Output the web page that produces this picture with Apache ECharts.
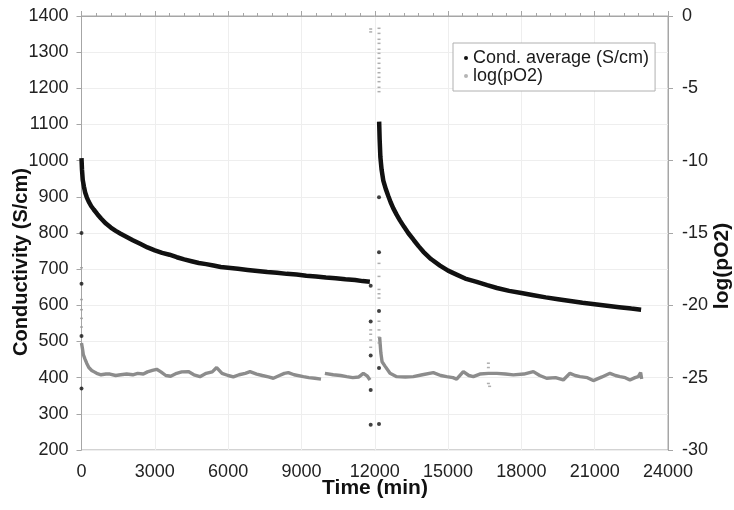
<!DOCTYPE html>
<html>
<head>
<meta charset="utf-8">
<script src="https://cdn.jsdelivr.net/npm/echarts@6/dist/echarts.min.js"></script>
<style>html,body{margin:0;padding:0;background:#fff}#c{width:734px;height:510px}</style>
</head>
<body>
<div id="c"></div>
<script>
// ---- Data ----
var xTicks = [0, 3000, 6000, 9000, 12000, 15000, 18000, 21000, 24000];

// Conductivity, first relaxation (time in min, S/cm)
var condT1 = [0, 20, 50, 100, 150, 220, 300, 400, 500, 650, 800, 1000, 1200, 1400, 1600, 1850, 2100, 2400, 2700, 3000, 3300, 3600, 3900, 4200, 4500, 4800, 5100, 5400, 5700, 6000, 6400, 6800, 7200, 7600, 8000, 8400, 8800, 9200, 9600, 10000, 10400, 10800, 11200, 11500, 11800];
var condV1 = [1007, 975, 947, 928, 912, 898, 886, 874, 865, 852, 840, 826, 815, 806, 798, 789, 780, 770, 760, 752, 745, 740, 733, 727, 722, 717, 714, 710, 706, 704, 701, 698, 695, 692, 690, 687, 685, 682, 680, 677, 675, 672, 670, 667, 665];

// Conductivity, second relaxation
var condT2 = [12180, 12200, 12230, 12280, 12350, 12450, 12550, 12650, 12760, 12900, 13030, 13200, 13370, 13600, 13800, 13990, 14300, 14670, 15000, 15350, 15700, 16170, 16600, 17000, 17500, 18000, 18500, 19000, 19500, 20000, 20500, 21000, 21500, 22000, 22500, 22900];
var condV2 = [1108, 1060, 1010, 975, 945, 922, 903, 885, 868, 850, 835, 817, 800, 780, 763, 748, 728, 710, 696, 685, 674, 665, 656, 648, 640, 634, 628, 622, 617, 612, 607, 603, 599, 595, 591, 588];

// Isolated conductivity points (start and gas switch)
var condDotT = [0, 0, 0, 0, 11834, 11834, 11834, 11834, 11834, 12174, 12174, 12174, 12174, 12174];
var condDotV = [370, 515, 660, 800, 654, 555, 461, 366, 270, 272, 427, 584, 747, 899];

// log(pO2), first period
var pT1 = [0, 40, 74, 140, 212, 300, 417, 520, 622, 800, 1000, 1166, 1400, 1600, 1848, 2100, 2300, 2530, 2700, 2900, 3076, 3250, 3450, 3650, 3895, 4100, 4372, 4600, 4849, 5100, 5350, 5531, 5750, 6000, 6213, 6450, 6700, 6895, 7168, 7400, 7650, 7850, 8100, 8300, 8464, 8700, 9078, 9300, 9550, 9800, 9880, 9960, 10300, 10600, 10851, 11100, 11350, 11533, 11700, 11806];
var pV1 = [-22.6, -23.0, -23.4, -23.7, -24.0, -24.3, -24.5, -24.6, -24.7, -24.8, -24.75, -24.75, -24.85, -24.8, -24.75, -24.8, -24.7, -24.75, -24.6, -24.5, -24.42, -24.6, -24.85, -24.9, -24.7, -24.6, -24.58, -24.8, -24.93, -24.7, -24.6, -24.3, -24.7, -24.85, -24.95, -24.8, -24.7, -24.58, -24.75, -24.85, -24.95, -25.04, -24.85, -24.7, -24.65, -24.8, -24.93, -25.0, -25.04, -25.1, null, -24.7, -24.8, -24.85, -24.93, -25.0, -24.95, -24.7, -24.9, -25.16];

// log(pO2), second period
var pT2 = [12200, 12250, 12300, 12420, 12625, 12898, 13250, 13580, 13950, 14396, 14700, 14942, 15200, 15351, 15624, 15850, 16033, 16300, 16647, 17000, 17350, 17670, 18100, 18490, 18750, 19033, 19400, 19715, 19988, 20200, 20397, 20700, 20943, 21300, 21625, 21850, 22034, 22250, 22443, 22650, 22785, 22880, 22921];
var pV2 = [-22.2, -23.3, -23.9, -24.2, -24.7, -24.93, -24.95, -24.93, -24.8, -24.65, -24.85, -24.93, -25.0, -25.1, -24.58, -24.85, -24.93, -24.75, -24.7, -24.7, -24.75, -24.81, -24.75, -24.58, -24.85, -25.04, -25.0, -25.16, -24.7, -24.85, -24.93, -25.0, -25.2, -24.95, -24.7, -24.85, -24.93, -25.0, -25.16, -25.0, -24.93, -24.65, -25.1];

// Isolated log(pO2) points (start, gas switch, spikes)
var pDotT = [0, 0, 0, 0, 0, 11834, 11834, 11834, 11834, 11834, 11834, 12174, 12174, 12174, 12174, 12174, 12174, 12174, 12174, 12174, 12174, 12174, 12174, 12174, 12174, 12174, 12174, 12174, 12174, 12174, 12174, 12174, 12174, 12174, 16650, 16650, 16650, 16700];
var pDotV = [-17.4, -19.6, -20.3, -20.9, -21.5, -0.9, -1.1, -21.7, -22.0, -22.4, -22.9, -0.85, -1.2, -1.61, -1.89, -2.3, -2.58, -2.92, -3.27, -3.61, -3.92, -4.24, -4.54, -4.93, -5.23, -17.1, -18.0, -18.9, -19.2, -19.5, -21.1, -21.7, -22.2, -22.6, -24.0, -24.3, -25.4, -25.6];

function pairs(t, v) {
  return t.map(function (x, i) { return [x, v[i] === null ? '-' : v[i]]; });
}

var FONT = '"Liberation Sans", Arial, sans-serif';
var AX = '#a6a6a6';
var GRID = '#eeeeee';
var BLACK = '#111111';
var GREY = '#8c8c8c';
var condName = 'Cond. average (S/cm)';
var pName = 'log(pO2)';
function plain(v) { return String(v); }

var chart = echarts.init(document.getElementById('c'), null, {renderer: 'canvas'});
chart.setOption({
  animation: false,
  backgroundColor: '#ffffff',
  textStyle: {fontFamily: FONT},
  grid: {left: 81.5, right: 66, top: 16, bottom: 60, show: true, borderColor: AX, borderWidth: 1, backgroundColor: 'transparent'},
  legend: {
    orient: 'vertical', left: 453, top: 43,
    padding: [6, 6, 6, 11], itemGap: 0,
    itemWidth: 4, itemHeight: 4,
    borderColor: '#b0b0b0', borderWidth: 1, backgroundColor: '#ffffff',
    textStyle: {fontSize: 18, color: '#1a1a1a', lineHeight: 17, fontFamily: FONT},
    data: [
      {name: condName, icon: 'circle', itemStyle: {color: BLACK}},
      {name: pName, icon: 'circle', itemStyle: {color: '#b5b5b5'}}
    ]
  },
  xAxis: {
    type: 'value', min: xTicks[0], max: xTicks[xTicks.length - 1], interval: xTicks[1] - xTicks[0],
    axisLine: {lineStyle: {color: AX}},
    axisTick: {inside: true, length: 5, lineStyle: {color: AX}},
    minorTick: {show: true, splitNumber: 5, length: 3, lineStyle: {color: AX}},
    splitLine: {show: true, lineStyle: {color: GRID}},
    axisLabel: {fontSize: 18, color: '#222', margin: 13, fontFamily: FONT, formatter: plain}
  },
  yAxis: [
    {
      type: 'value', min: 200, max: 1400, interval: 100, position: 'left',
      axisLine: {show: true, lineStyle: {color: AX}},
      axisTick: {show: true, length: 5, lineStyle: {color: AX}},
      splitLine: {show: true, lineStyle: {color: GRID}},
      axisLabel: {fontSize: 18, color: '#222', margin: 13, fontFamily: FONT, formatter: plain}
    },
    {
      type: 'value', min: -30, max: 0, interval: 5, position: 'right',
      axisLine: {show: true, lineStyle: {color: AX}},
      axisTick: {show: true, length: 5, lineStyle: {color: AX}},
      splitLine: {show: false},
      axisLabel: {fontSize: 18, color: '#222', margin: 14, fontFamily: FONT, formatter: plain}
    }
  ],
  graphic: [
    {type: 'text', x: 21, y: 262, rotation: Math.PI / 2,
     style: {text: 'Conductivity (S/cm)', font: 'bold 20px ' + FONT, fill: '#111', align: 'center', verticalAlign: 'middle'}},
    {type: 'text', x: 722, y: 266, rotation: Math.PI / 2,
     style: {text: 'log(pO2)', font: 'bold 21px ' + FONT, fill: '#111', align: 'center', verticalAlign: 'middle'}},
    {type: 'text', x: 375, y: 488,
     style: {text: 'Time (min)', font: 'bold 21px ' + FONT, fill: '#111', align: 'center', verticalAlign: 'middle'}}
  ],
  series: [
    {name: pName, type: 'line', yAxisIndex: 1, showSymbol: false, connectNulls: false,
     lineStyle: {color: GREY, width: 3.4}, itemStyle: {color: GREY}, data: pairs(pT1, pV1), z: 2},
    {name: pName, type: 'line', yAxisIndex: 1, showSymbol: false,
     lineStyle: {color: GREY, width: 3.4}, itemStyle: {color: GREY}, data: pairs(pT2, pV2), z: 2},
    {name: pName, type: 'scatter', yAxisIndex: 1, symbol: 'rect', symbolSize: [3, 1.5],
     itemStyle: {color: '#9a9a9a'}, data: pairs(pDotT, pDotV), z: 2},
    {name: condName, type: 'line', yAxisIndex: 0, showSymbol: false,
     lineStyle: {color: BLACK, width: 4.5}, itemStyle: {color: BLACK}, data: pairs(condT1, condV1), z: 3},
    {name: condName, type: 'line', yAxisIndex: 0, showSymbol: false,
     lineStyle: {color: BLACK, width: 4.5}, itemStyle: {color: BLACK}, data: pairs(condT2, condV2), z: 3},
    {name: condName, type: 'scatter', yAxisIndex: 0, symbol: 'circle', symbolSize: 4,
     itemStyle: {color: BLACK}, data: pairs(condDotT, condDotV), z: 3}
  ]
});
</script>
</body>
</html>
